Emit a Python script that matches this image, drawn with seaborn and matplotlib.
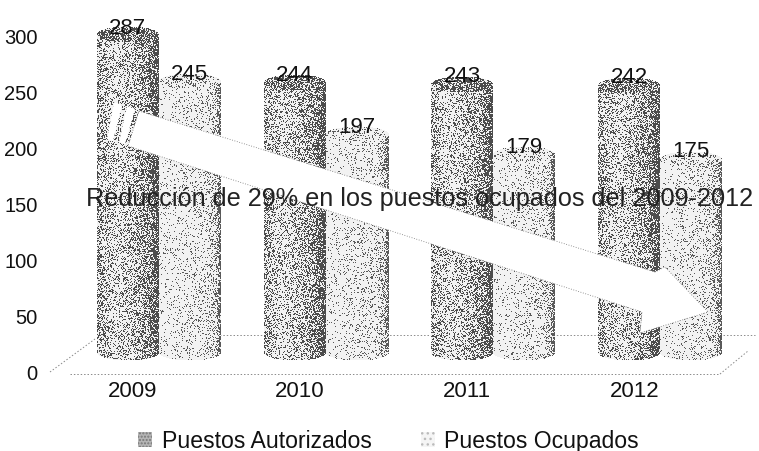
import numpy as np
import pandas as pd
import matplotlib
matplotlib.use("Agg")
import matplotlib.pyplot as plt
from matplotlib.patches import Patch, Polygon
from matplotlib.transforms import Affine2D, ScaledTranslation
import seaborn as sns

# Datos
years = ["2009", "2010", "2011", "2012"]
autorizados = [287, 244, 243, 242]
ocupados = [245, 197, 179, 175]
y_ticks = [0, 50, 100, 150, 200, 250, 300]
note = "Reducción de 29% en los puestos ocupados del 2009-2012"

W, H = 759, 452
sns.set_style("white")
plt.rcParams["font.family"] = ["Liberation Sans", "DejaVu Sans"]

df = pd.DataFrame({
    "year": years * 2,
    "value": autorizados + ocupados,
    "serie": ["Puestos Autorizados"] * 4 + ["Puestos Ocupados"] * 4,
})

fig = plt.figure(figsize=(W / 100, H / 100), dpi=100)
# caja de los ejes en pixeles: x 75-744, y 20-373
ax = fig.add_axes([75 / W, 1 - 373 / H, 669 / W, 353 / H])
px = Affine2D().scale(1, -1).translate(0, H)  # coordenadas de pixel, y hacia abajo

sns.barplot(data=df, x="year", y="value", hue="serie", order=years, width=0.74, gap=0,
            palette=["#8f8f8f", "#f1f1f1"], saturation=1, legend=False, ax=ax)
ax.set_xlim(-0.5, 3.5)
ax.set_ylim(-18.1, 301.4)  # las barras van en perspectiva, su base queda sobre el 0
ax.set_xlabel("")
ax.set_ylabel("")
ax.set_yticks([])
sns.despine(ax=ax, left=True, bottom=True)


def speckle(shape, seed):
    yy, xx = np.indices(shape)
    return (np.sin(xx * 12.9898 + yy * 78.233 + seed) * 43758.5453) % 1.0


def cylinder(patch, stops, cap, dark_rgb, seed):
    x0 = patch.get_x()
    x1 = x0 + patch.get_width()
    top = patch.get_height()
    (xa, ya), (xb, yb) = ax.transData.transform([(x0, 0), (x1, top)])
    w, h_body = int(round(xb - xa)), int(round(yb - ya))
    semi = 8
    rows = h_body + 2 * semi + 2
    img = np.ones((rows, w, 4))
    noise = speckle((rows, w), seed)
    u = (np.arange(w) + 0.5) / w
    bulge = semi * np.sqrt(np.clip(1 - (2 * u - 1) ** 2, 0, 1))
    dens = np.interp(u, stops[0], stops[1])
    for c in range(w):
        for r in range(rows):
            y_from_top = r - semi - 1
            in_cap = abs(y_from_top) <= bulge[c]
            in_body = y_from_top >= bulge[c] and y_from_top <= h_body + bulge[c]
            if in_cap:
                d = cap
            elif in_body:
                d = dens[c]
            else:
                img[r, c, 3] = 0
                continue
            img[r, c, :3] = dark_rgb if noise[r, c] < d else 0.95
    inv = ax.transData.inverted()
    (ex0, ey0), (ex1, ey1) = inv.transform([(xa, yb + semi + 1), (xa + w, yb + semi + 1 - rows)])
    ax.imshow(img, extent=(ex0, ex1, ey1, ey0), aspect="auto", interpolation="nearest", zorder=3)


dark_stops = ([0, 0.1, 0.3, 0.5, 0.8, 1], [0.45, 0.35, 0.22, 0.3, 0.5, 0.85])
light_stops = ([0, 0.5, 0.8, 0.93, 1], [0.06, 0.13, 0.18, 0.35, 0.85])
for i, bars in enumerate(ax.containers):
    for j, bar in enumerate(bars):
        if i == 0:
            cylinder(bar, dark_stops, 0.6, 0.3, j + 1.5)
        else:
            cylinder(bar, light_stops, 0.2, 0.35, j + 7.5)
    labels = ax.bar_label(bars, padding=-2, fontsize=16, color="#111111", zorder=8)
    for t in labels:
        t.set_zorder(8)
ax.set_xlim(-0.5, 3.5)
ax.set_ylim(-18.1, 301.4)

# eje de valores con su propia escala
ax2 = ax.twinx()
ax2.set_ylim(0, 353 / 1.12)
ax2.yaxis.tick_left()
ax2.set_yticks(y_ticks)
ax2.tick_params(axis="y", length=0, pad=27, labelsize=14.5, labelcolor="#111111")
ax2.grid(False)
sns.despine(ax=ax2, left=True, bottom=True, right=True)
ax2.patch.set_visible(False)
ax2.set_zorder(ax.get_zorder() + 1)

ax.tick_params(axis="x", length=0, pad=6, labelsize=16, labelcolor="#111111")
for lab in ax.get_xticklabels():
    lab.set_transform(lab.get_transform() + ScaledTranslation(-26 / 100, 0, fig.dpi_scale_trans))

# piso punteado
floor = dict(color="#8a8a8a", lw=0.7, ls=(0, (1.5, 2)), transform=px, clip_on=False, zorder=1)
ax.plot([70, 720], [375, 375], **floor)
ax.plot([720, 748], [375, 352], **floor)
ax.plot([50, 95], [373, 340], **floor)
ax.plot([165, 755], [336, 336], **floor)

# flecha blanca
arrow_pts = [(139, 112), (655, 273), (665, 268), (708, 313), (640, 334), (642, 313), (128, 147)]
strips = [[(114, 103), (122, 106), (113, 142), (107, 140)],
          [(127, 107), (135, 110), (125, 145), (119, 143)]]
ax.add_patch(Polygon(arrow_pts, closed=True, facecolor="white", edgecolor="#777777", lw=0.6,
                     ls=(0, (1, 2)), transform=px, zorder=5, clip_on=False))
for s in strips:
    ax.add_patch(Polygon(s, closed=True, facecolor="white", edgecolor="none", transform=px, zorder=5))

ax.text(420, 199, note, transform=px, ha="center", va="center", fontsize=18.2, color="#222222", zorder=9)

# leyenda
handles = [Patch(facecolor="#b5b5b5", edgecolor="#777777", hatch=".....", lw=0),
           Patch(facecolor="#f5f5f5", edgecolor="#bbbbbb", hatch="...", lw=0)]
ax.legend(handles, ["Puestos Autorizados", "Puestos Ocupados"], ncols=2, frameon=False,
          loc="center left", bbox_to_anchor=(138, 442), bbox_transform=px, fontsize=16.6,
          handlelength=0.62, handleheight=0.62, handletextpad=0.4, columnspacing=2.13,
          labelcolor="#111111", borderpad=0, borderaxespad=0)

fig.savefig("out.png", dpi=100)
